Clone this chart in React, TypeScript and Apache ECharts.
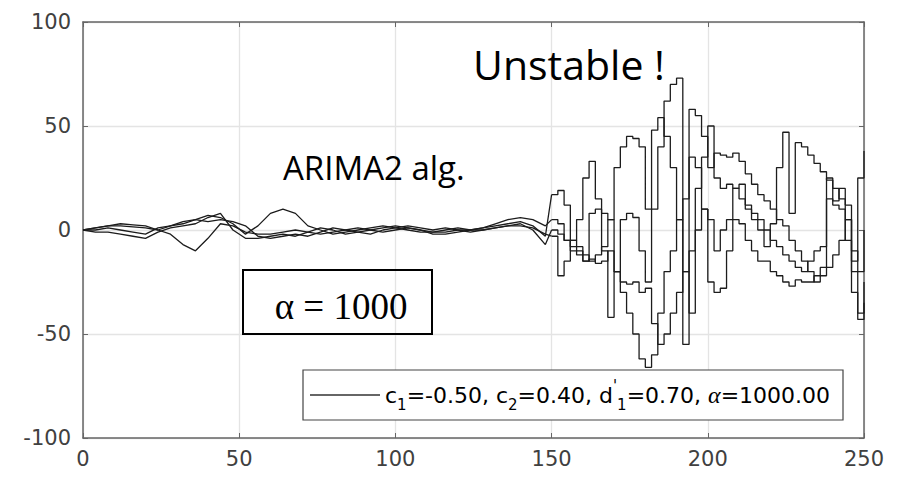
import React, { useEffect, useRef } from "react";
import * as echarts from "echarts";

// x positions (time steps)
const xStable = [0, 4, 8, 12, 16, 20, 24, 28, 32, 36, 40, 44, 48, 52, 56, 60, 64, 68, 72, 76, 80, 84, 88, 92, 96, 100, 104, 108, 112, 116, 120, 124, 128, 132, 136, 140, 144, 148];
const xUnstable = [150, 152, 154, 156, 158, 160, 162, 164, 166, 168, 170, 172, 174, 176, 178, 180, 182, 184, 186, 188, 190, 192, 194, 196, 198, 200, 202, 204, 206, 208, 210, 212, 214, 216, 218, 220, 222, 224, 226, 228, 230, 232, 234, 236, 238, 240, 242, 244, 246, 248, 250];

// run 1
const s1Stable = [0, 1, 2, 2, 1.5, 1, 0, -2, -7, -10, -4, 3, 2, -1, -2, -2, -1, 0, -1, -2, -1, 0, 1, 0, -1, 0, 1, 0, -1, -1, 0, 0, 1, 2, 3, 4, 2, -3];
const s1Unstable = [17, 19, 12, -5, 5, 25, 33, 15, -10, -42, -20, 5, 8, 6, -10, -25, 10, 40, 62, 70, 73, -55, 58, 55, 45, 30, 37, 36, 35, 37, 33, 27, 22, 17, 14, 10, 5, 2, -5, -10, -15, -20, -25, -22, -18, -12, -5, 5, -15, 25, 38];
// run 2
const s2Stable = [0, 1, 2, 3, 2.5, 2, 0, 2, 4, 5, 7, 6, 3, -2, 2, 8, 10, 8, 2, 0, -2, -1, 0, 1, 2, 1, 0, -1, -1, 0, 1, 0, 1, 3, 5, 6, 5, 2];
const s2Unstable = [5, 3, -5, -8, -10, -12, -15, -12, -8, 5, 30, 40, 45, 44, 40, 10, 48, 54, 45, 30, 5, -20, -40, 20, 35, 50, 25, 20, 22, 20, 15, 10, 8, 5, 0, -5, -8, -12, -15, -18, -20, -15, -10, -8, 15, 12, 10, -5, -20, -43, -35];
// run 3
const s3Stable = [0, -1, -1, -2, -3, -4, -1, 1, 2, 3, 6, 8, 0, -4, -4, -3, -2, -3, -1, 1, 0, -2, -1, 0, 1, 2, 1, 0, -2, -2, -1, 0, 0, 1, 2, 3, 0, -7];
const s3Unstable = [0, -2, -5, -10, -12, -15, -14, -16, -15, -10, -20, -30, -40, -50, -62, -66, -60, -40, -20, -10, 5, 15, 35, 30, 10, -25, -30, -28, -10, 5, 3, -5, -10, -15, -15, -20, -22, -25, -27, -24, -25, -25, -22, -18, 25, 20, 15, 12, -30, -40, -25];
// run 4
const s4Stable = [0, 0, 1, 0, -1, -2, 1, 2, 3, 5, 4, 5, 4, 2, -3, -4, -3, -2, -3, -1, 1, 0, -1, -2, 0, 1, 2, 1, 0, 1, 0, -1, 0, 1, 2, 2, 1, -2];
const s4Unstable = [-3, -22, -15, -5, -8, -15, 8, 10, 8, 5, -20, -25, -26, -25, -30, -28, -45, -55, -50, -40, -30, -20, -10, 0, 10, 5, -10, 0, 5, 20, 22, 12, 5, 0, -8, 3, 30, 47, 8, 42, 40, 36, 32, 28, 24, 14, 20, 5, -10, -20, 0];

const xTicks = [0, 50, 100, 150, 200, 250];
const yTicks = [-100, -50, 0, 50, 100];

const runs = [
  [s1Stable, s1Unstable],
  [s2Stable, s2Unstable],
  [s3Stable, s3Unstable],
  [s4Stable, s4Unstable],
];

function stablePairs(stable: number[], unstable: number[]) {
  const pts = xStable.map((x, i) => [x, stable[i]]);
  pts.push([xUnstable[0], unstable[0]]);
  return pts;
}
function unstablePairs(unstable: number[]) {
  return xUnstable.map((x, i) => [x, unstable[i]]);
}

export default function App() {
  const ref = useRef<HTMLDivElement>(null);
  useEffect(() => {
    if (!ref.current) return;
    const chart = echarts.init(ref.current, undefined, { renderer: "svg" });
    const labelColor = "#404040";
    const axisColor = "#666666";
    const lineColor = "#1c1c1c";
    const xMin = xTicks[0], xMax = xTicks[xTicks.length - 1];
    const yMin = yTicks[0], yMax = yTicks[yTicks.length - 1];
    const series: any[] = [];
    runs.forEach((r, i) => {
      series.push({
        type: "line", name: "run" + (i + 1) + "a", symbol: "none", smooth: false,
        data: stablePairs(r[0], r[1]),
        lineStyle: { color: lineColor, width: 1.3 }, z: 3,
      });
      series.push({
        type: "line", name: "run" + (i + 1) + "b", step: "end", symbol: "none",
        data: unstablePairs(r[1]),
        lineStyle: { color: lineColor, width: 1.3 }, z: 3,
      });
    });
    chart.setOption({
      animation: false,
      backgroundColor: "#ffffff",
      grid: { left: 83, right: 33, top: 22, bottom: 52, show: false },
      xAxis: [
        {
          type: "value", min: xMin, max: xMax, interval: 50,
          axisLine: { show: true, onZero: false, lineStyle: { color: axisColor, width: 1.5 } },
          axisTick: { show: true, inside: true, length: 5, lineStyle: { color: axisColor } },
          axisLabel: { color: labelColor, fontSize: 21, fontFamily: "DejaVu Sans", margin: 10 },
          splitLine: { show: true, lineStyle: { color: "#e4e4e4", width: 1.3 } },
        },
        {
          type: "value", position: "top", min: xMin, max: xMax, interval: 50,
          axisLine: { show: true, onZero: false, lineStyle: { color: axisColor, width: 1.5 } },
          axisTick: { show: true, inside: true, length: 5, lineStyle: { color: axisColor } },
          axisLabel: { show: false },
          splitLine: { show: false },
        },
      ],
      yAxis: [
        {
          type: "value", min: yMin, max: yMax, interval: 50,
          axisLine: { show: true, onZero: false, lineStyle: { color: axisColor, width: 1.5 } },
          axisTick: { show: true, inside: true, length: 5, lineStyle: { color: axisColor } },
          axisLabel: { color: labelColor, fontSize: 21, fontFamily: "DejaVu Sans", margin: 12 },
          splitLine: { show: true, lineStyle: { color: "#e4e4e4", width: 1.3 } },
        },
        {
          type: "value", position: "right", min: yMin, max: yMax, interval: 50,
          axisLine: { show: true, onZero: false, lineStyle: { color: axisColor, width: 1.5 } },
          axisTick: { show: true, inside: true, length: 5, lineStyle: { color: axisColor } },
          axisLabel: { show: false },
          splitLine: { show: false },
        },
      ],
      series,
      graphic: [
        {
          type: "text", z: 100, x: 473, y: 64,
          style: { text: "Unstable !", font: "41px 'Open Sans'", fill: "#000", textAlign: "left", textVerticalAlign: "middle" },
        },
        {
          type: "text", z: 100, x: 283, y: 167,
          style: { text: "ARIMA2 alg.", font: "33px 'Open Sans'", fill: "#000", textAlign: "left", textVerticalAlign: "middle" },
        },
        {
          type: "rect", z: 100,
          shape: { x: 243, y: 270, width: 189, height: 64 },
          style: { fill: "none", stroke: "#000", lineWidth: 2 },
        },
        {
          type: "text", z: 101, x: 341, y: 306,
          style: { text: "α = 1000", font: "37px 'Liberation Serif'", fill: "#000", textAlign: "center", textVerticalAlign: "middle" },
        },
        {
          type: "rect", z: 100,
          shape: { x: 303, y: 370, width: 540, height: 50 },
          style: { fill: "#ffffff", stroke: "#444", lineWidth: 1.2 },
        },
        {
          type: "line", z: 101,
          shape: { x1: 310, y1: 395, x2: 380, y2: 395 },
          style: { stroke: "#333", lineWidth: 1.5 },
        },
        {
          type: "text", z: 101, x: 385, y: 395,
          style: {
            text: "{m|c}{sub|1}{m|=-0.50, c}{sub|2}{m|=0.40, d}{sup|'}{sub|1}{m|=0.70, }{al|α}{m|=1000.00}",
            textAlign: "left", textVerticalAlign: "middle",
            rich: {
              m: { fontSize: 22, fontFamily: "DejaVu Sans", color: "#333", lineHeight: 34 },
              sub: { fontSize: 15, fontFamily: "DejaVu Sans", color: "#333", lineHeight: 15, verticalAlign: "bottom" },
              sup: { fontSize: 15, fontFamily: "DejaVu Sans", color: "#333", lineHeight: 15, verticalAlign: "top" },
              al: { fontSize: 24, fontFamily: "Liberation Serif", fontStyle: "italic", color: "#333", lineHeight: 34 },
            },
          },
        },
      ],
    });
    return () => chart.dispose();
  }, []);
  return (
    <div
      ref={ref}
      style={{ position: "fixed", left: 0, top: 0, width: 897, height: 490, background: "#fff" }}
    />
  );
}
